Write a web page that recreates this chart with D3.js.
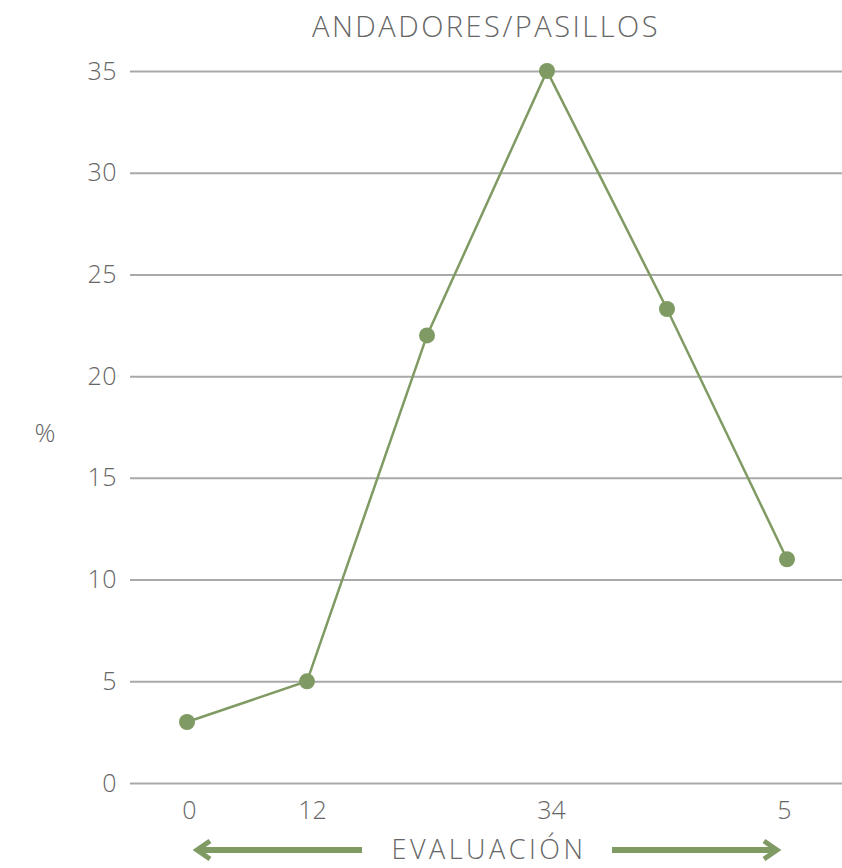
<!DOCTYPE html>
<html>
<head>
<meta charset="utf-8">
<script src="https://cdn.jsdelivr.net/npm/d3@7"></script>
<style>
  html, body { margin: 0; padding: 0; background: #fff; }
  svg { display: block; font-family: "Open Sans", "Lato", sans-serif; font-weight: 300; }
</style>
</head>
<body>
<svg id="chart" width="842" height="868"></svg>
<script>
// Evaluation scores and the share of responses (%) for each
const categories = [0, 1, 2, 3, 4, 5];
const tickLabels = ["0", "12", "", "34", "", "5"];
const values = [3, 5, 22, 35, 23.3, 11];
const yTicks = [0, 5, 10, 15, 20, 25, 30, 35];

const title = "ANDADORES/PASILLOS";
const xTitle = "EVALUACIÓN";
const yTitle = "%";

const green = "#7f9a62";
const textColor = "#666666";
const gridColor = "#a9a9a9";

const svg = d3.select("#chart");

const x = d3.scalePoint().domain(categories).range([187, 787]);
const y = d3.scaleLinear().domain([0, 35]).range([783, 71]);

// Horizontal gridlines with value labels
const yAxis = d3.axisLeft(y).tickValues(yTicks).tickSize(0).tickPadding(13);
const gy = svg.append("g").attr("transform", "translate(130,0)").call(yAxis);
gy.select(".domain").remove();
gy.selectAll(".tick line")
  .attr("x2", 712)
  .attr("stroke", gridColor)
  .attr("stroke-width", 2);
gy.selectAll(".tick text")
  .attr("fill", textColor)
  .style("font-size", "25px")
  .style("letter-spacing", "0.5px")
  .style("font-family", "'Open Sans', sans-serif")
  .style("font-weight", 300);

// Category labels along the bottom
const xAxis = d3.axisBottom(x).tickFormat((d, i) => tickLabels[i]).tickSize(0).tickPadding(18);
const gx = svg.append("g").attr("transform", "translate(0,783)").call(xAxis);
gx.select(".domain").remove();
gx.selectAll(".tick text")
  .attr("fill", textColor)
  .attr("dx", (d, i) => (i === 1 ? 5 : i === 3 ? 4 : i === 0 ? 2 : -3))
  .style("font-size", "25px")
  .style("font-family", "'Open Sans', sans-serif")
  .style("font-weight", 300);

// Series line and markers
const line = d3.line().x((d, i) => x(categories[i])).y(d => y(d));
svg.append("path")
  .datum(values)
  .attr("d", line)
  .attr("fill", "none")
  .attr("stroke", green)
  .attr("stroke-width", 2.5);

svg.append("g").selectAll("circle")
  .data(values)
  .join("circle")
  .attr("cx", (d, i) => x(categories[i]))
  .attr("cy", d => y(d))
  .attr("r", 8)
  .attr("fill", green);

// Titles
svg.append("text")
  .attr("x", 486).attr("y", 37)
  .attr("text-anchor", "middle")
  .attr("fill", textColor)
  .style("font-size", "29px")
  .style("letter-spacing", "2.5px")
  .text(title);

svg.append("text")
  .attr("x", 45).attr("y", 442)
  .attr("text-anchor", "middle")
  .attr("fill", textColor)
  .style("font-size", "26px")
  .text(yTitle);

svg.append("text")
  .attr("x", 489).attr("y", 859)
  .attr("text-anchor", "middle")
  .attr("fill", textColor)
  .style("font-size", "27px")
  .style("letter-spacing", "3.5px")
  .text(xTitle);

// Direction arrows on either side of the axis title
const arrowY = 850;
function arrow(x1, x2) {
  const dir = Math.sign(x2 - x1);
  svg.append("line")
    .attr("x1", x1).attr("y1", arrowY)
    .attr("x2", x2 - dir * 4).attr("y2", arrowY)
    .attr("stroke", green).attr("stroke-width", 6);
  svg.append("path")
    .attr("d", `M${x2 - dir * 13},${arrowY - 9} L${x2},${arrowY} L${x2 - dir * 13},${arrowY + 9}`)
    .attr("fill", "none")
    .attr("stroke", green)
    .attr("stroke-width", 5)
    .attr("stroke-linejoin", "miter");
}
arrow(362, 197);
arrow(612, 777);
</script>
</body>
</html>
